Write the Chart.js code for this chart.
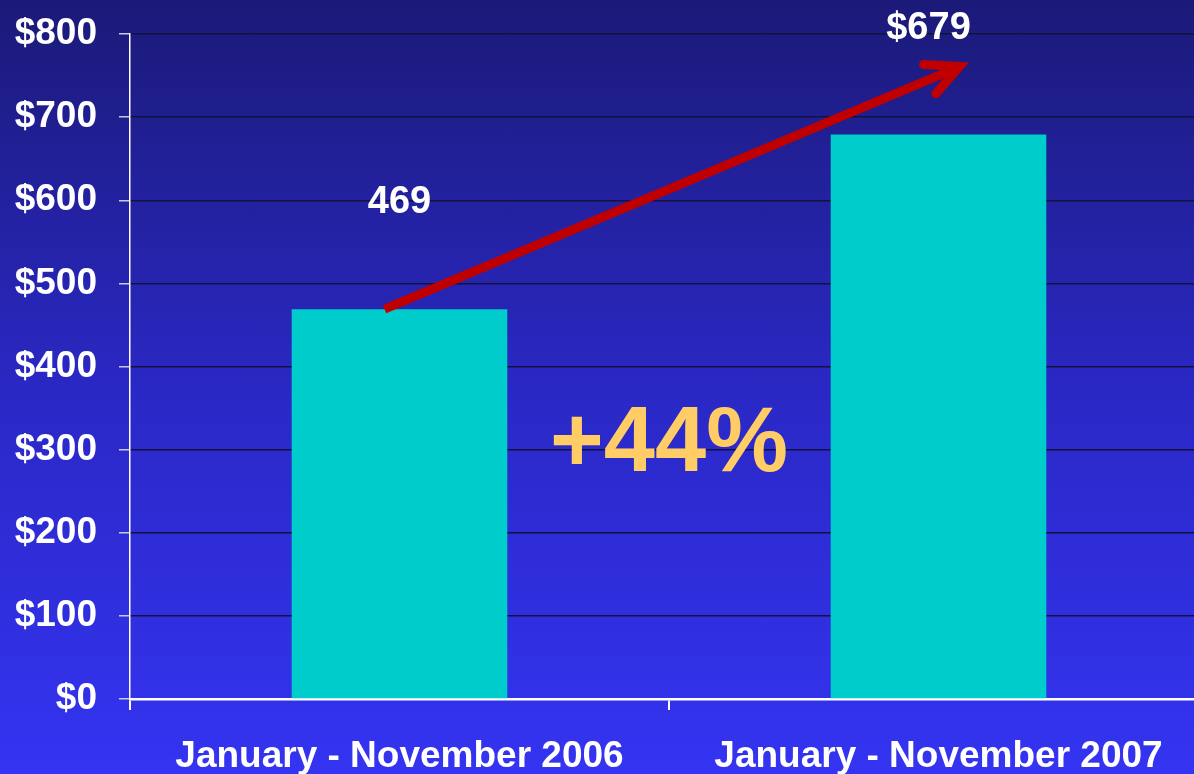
<!DOCTYPE html>
<html>
<head>
<meta charset="utf-8">
<script src="https://cdn.jsdelivr.net/npm/chart.js@4/dist/chart.umd.min.js"></script>
<style>
  html, body {
    margin: 0;
    padding: 0;
    width: 1194px;
    height: 774px;
    overflow: hidden;
    background: linear-gradient(to bottom, #1b1a78 0%, #2a28c4 50%, #3434f2 100%);
  }
  #wrap {
    position: relative;
    width: 1208px;
    height: 774px;
  }
</style>
</head>
<body>
<div id="wrap"><canvas id="chart"></canvas></div>
<script>
// Chart data
const categories = ['January - November 2006', 'January - November 2007'];
const values = [469, 679];
const valueLabels = ['469', '$679'];
const yTicks = [0, 100, 200, 300, 400, 500, 600, 700, 800];
const growthLabel = '+44%';

Chart.defaults.font.family = '"Liberation Sans", Arial, sans-serif';
Chart.defaults.font.weight = 'bold';

// Labels, arrow and growth text drawn over the bars
const annotatePlugin = {
    id: 'annotate',
    afterDatasetsDraw(chart) {
        const ctx = chart.ctx;
        const bars = chart.getDatasetMeta(0).data;
        const y = chart.scales.y;

        ctx.save();
        // value labels floating above the bars
        ctx.fillStyle = '#ffffff';
        ctx.font = 'bold 38px "Liberation Sans", Arial, sans-serif';
        ctx.textAlign = 'center';
        ctx.textBaseline = 'alphabetic';
        bars.forEach((bar, i) => {
            const dx = i === 1 ? -10 : 0;
            ctx.fillText(valueLabels[i], bar.x + dx, bar.y - 96);
        });

        // red growth arrow
        const x0 = bars[0].x - 15, y0 = bars[0].y;
        const x1 = bars[1].x + 21, y1 = bars[1].y - 68;
        const ang = Math.atan2(y1 - y0, x1 - x0);
        ctx.strokeStyle = '#c00000';
        ctx.lineWidth = 9;
        ctx.lineCap = 'butt';
        ctx.beginPath();
        ctx.moveTo(x0, y0);
        ctx.lineTo(x1 - 5 * Math.cos(ang), y1 - 5 * Math.sin(ang));
        ctx.stroke();
        ctx.lineCap = 'round';
        ctx.lineJoin = 'miter';
        const len = 36, spread = 26 * Math.PI / 180;
        ctx.beginPath();
        ctx.moveTo(x1 - len * Math.cos(ang - spread), y1 - len * Math.sin(ang - spread));
        ctx.lineTo(x1, y1);
        ctx.lineTo(x1 - len * Math.cos(ang + spread), y1 - len * Math.sin(ang + spread));
        ctx.stroke();

        // growth percentage
        ctx.fillStyle = '#ffcc66';
        ctx.font = 'bold 92px "Liberation Sans", Arial, sans-serif';
        ctx.textAlign = 'center';
        ctx.fillText(growthLabel, (bars[0].x + bars[1].x) / 2, y.getPixelForValue(274));
        ctx.restore();
    }
};

new Chart(document.getElementById('chart'), {
    type: 'bar',
    data: {
        labels: categories,
        datasets: [{
            data: values,
            backgroundColor: '#00cccc',
            borderWidth: 0,
            barPercentage: 0.4,
            categoryPercentage: 1.0
        }]
    },
    options: {
        responsive: true,
        maintainAspectRatio: false,
        animation: false,
        layout: {
            padding: { top: 34, left: 0, right: 0, bottom: 0 }
        },
        plugins: {
            legend: { display: false },
            tooltip: { enabled: false }
        },
        scales: {
            y: {
                min: 0,
                max: 800,
                afterBuildTicks: (scale) => {
                    scale.ticks = yTicks.map(v => ({ value: v }));
                },
                afterFit: (scale) => {
                    scale.width = 130;
                    scale.paddingTop = 0;
                    scale.paddingBottom = 0;
                },
                ticks: {
                    color: '#ffffff',
                    padding: 22,
                    font: { size: 37, weight: 'bold' },
                    callback: (v) => '$' + v
                },
                grid: {
                    color: '#12123c',
                    lineWidth: 1.5,
                    tickColor: '#c8c8e0',
                    tickLength: 11
                },
                border: {
                    color: '#ffffff',
                    width: 1.5
                }
            },
            x: {
                afterFit: (scale) => {
                    scale.height = 75;
                    scale.paddingLeft = 0;
                    scale.paddingRight = 0;
                },
                ticks: {
                    color: '#ffffff',
                    padding: 25,
                    maxRotation: 0,
                    font: { size: 37, weight: 'bold' }
                },
                grid: {
                    drawOnChartArea: false,
                    color: '#ffffff',
                    tickColor: '#ffffff',
                    tickLength: 11,
                    lineWidth: 2
                },
                border: {
                    color: '#ffffff',
                    width: 2.5
                }
            }
        }
    },
    plugins: [annotatePlugin]
});
</script>
</body>
</html>
